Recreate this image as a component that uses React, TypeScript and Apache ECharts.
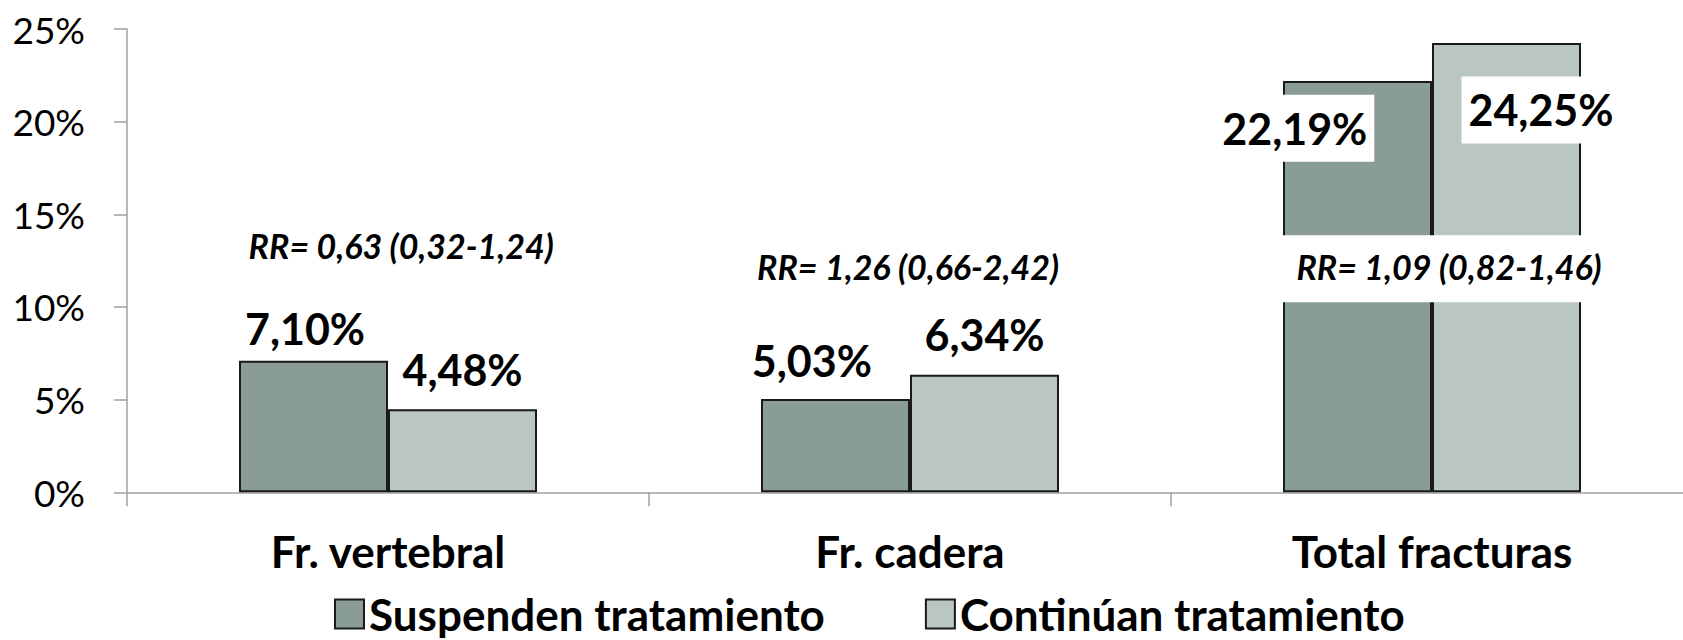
import React, { useEffect, useRef } from "react";
import * as echarts from "echarts";

const categories = ["Fr. vertebral", "Fr. cadera", "Total fracturas"];
const seriesNames = ["Suspenden tratamiento", "Continúan tratamiento"];
const suspenden = [7.1, 5.03, 22.19];
const continuan = [4.48, 6.34, 24.25];
const rrTexts = ["RR= 0,63 (0,32-1,24)", "RR= 1,26 (0,66-2,42)", "RR= 1,09 (0,82-1,46)"];
const yMin = 0;
const yMax = 25;
const yStep = 5;

// styling (label placement relative to bar tops, in px)
const FONT = "Lato, 'Open Sans', sans-serif";
const suspLabelOffsets = [[-8.5, -32.3], [-23.6, -38.5], [-62.7, 47.2]];
const contLabelOffsets = [[0, -39.3], [0, -39.9], [34.5, 67.1]];
const suspLabelBoxed = [false, false, true];
const contLabelBoxed = [false, false, true];
const rrLevels = [13.3, 12.2, 12.2];
const rrDx = [13.2, -2, 17];
const rrBoxed = [false, false, true];

const fmt = (v: number) => v.toFixed(2).replace(".", ",") + "%";

function buildData(values: number[], offsets: number[][], boxed: boolean[]) {
  return values.map((v, i) => ({
    value: v,
    label: {
      show: true,
      position: ["50%", 0],
      align: "center",
      verticalAlign: "middle",
      offset: offsets[i],
      backgroundColor: boxed[i] ? "#ffffff" : "transparent",
      padding: boxed[i] ? [12, 7, 12, 7] : 0,
    },
  }));
}

export default function App() {
  const ref = useRef<HTMLDivElement>(null);
  useEffect(() => {
    if (!ref.current) return;
    const chart = echarts.init(ref.current, undefined, { renderer: "svg" });
    const labelBase = {
      show: true,
      formatter: (p: any) => fmt(p.value),
      fontFamily: FONT,
      fontWeight: "bold",
      fontSize: 43,
      color: "#000",
    };
    chart.setOption({
      animation: false,
      backgroundColor: "#ffffff",
      grid: { left: 127, right: 0, top: 29, bottom: 147.7, containLabel: false },
      legend: {
        left: 334,
        top: 592,
        padding: 0,
        itemWidth: 29,
        itemHeight: 29,
        itemGap: 100,
        icon: "rect",
        data: seriesNames,
        textStyle: { fontFamily: FONT, fontWeight: "bold", fontSize: 44, color: "#000" },
      },
      xAxis: {
        type: "category",
        data: categories,
        axisLine: { lineStyle: { color: "#A0A0A0", width: 1.5 } },
        axisTick: { show: true, length: 14, lineStyle: { color: "#A0A0A0", width: 1.5 } },
        axisLabel: { fontFamily: FONT, fontWeight: "bold", fontSize: 44, color: "#000", margin: 37 },
      },
      yAxis: {
        type: "value",
        min: yMin,
        max: yMax,
        interval: yStep,
        splitLine: { show: false },
        axisLine: { show: true, lineStyle: { color: "#A0A0A0", width: 1.5 } },
        axisTick: { show: true, length: 13, lineStyle: { color: "#A0A0A0", width: 1.5 } },
        axisLabel: { formatter: "{value}%", fontFamily: FONT, fontSize: 37, color: "#000", margin: 42 },
      },
      series: [
        {
          name: seriesNames[0],
          type: "bar",
          barWidth: 149,
          barGap: "0%",
          itemStyle: { color: "#8A9D94", borderColor: "#1a1a1a", borderWidth: 2 },
          label: labelBase,
          data: buildData(suspenden, suspLabelOffsets, suspLabelBoxed),
        },
        {
          name: seriesNames[1],
          type: "bar",
          barWidth: 149,
          barGap: "0%",
          itemStyle: { color: "#BAC7C0", borderColor: "#1a1a1a", borderWidth: 2 },
          label: labelBase,
          data: buildData(continuan, contLabelOffsets, contLabelBoxed),
        },
      ],
    });

    const graphics: any[] = [];
    categories.forEach((c, i) => {
      const cx = chart.convertToPixel({ xAxisIndex: 0 }, c) as number;
      const cy = chart.convertToPixel({ yAxisIndex: 0 }, rrLevels[i]) as number;
      const x = cx + rrDx[i];
      if (rrBoxed[i]) {
        graphics.push({
          type: "rect",
          z: 100,
          shape: { x: x - 172, y: cy - 31, width: 344, height: 67 },
          style: { fill: "#ffffff" },
        });
      }
      graphics.push({
        type: "text",
        z: 101,
        x,
        y: cy,
        style: {
          text: rrTexts[i],
          fill: "#000",
          font: `italic bold 34px ${FONT}`,
          textAlign: "center",
          textVerticalAlign: "middle",
        },
      });
    });
    chart.setOption({ graphic: graphics });

    return () => chart.dispose();
  }, []);
  return (
    <div style={{ position: "fixed", left: 0, top: 0, width: 1683, height: 640, overflow: "hidden", background: "#fff" }}>
      <div ref={ref} style={{ width: 1693, height: 640 }} />
    </div>
  );
}
